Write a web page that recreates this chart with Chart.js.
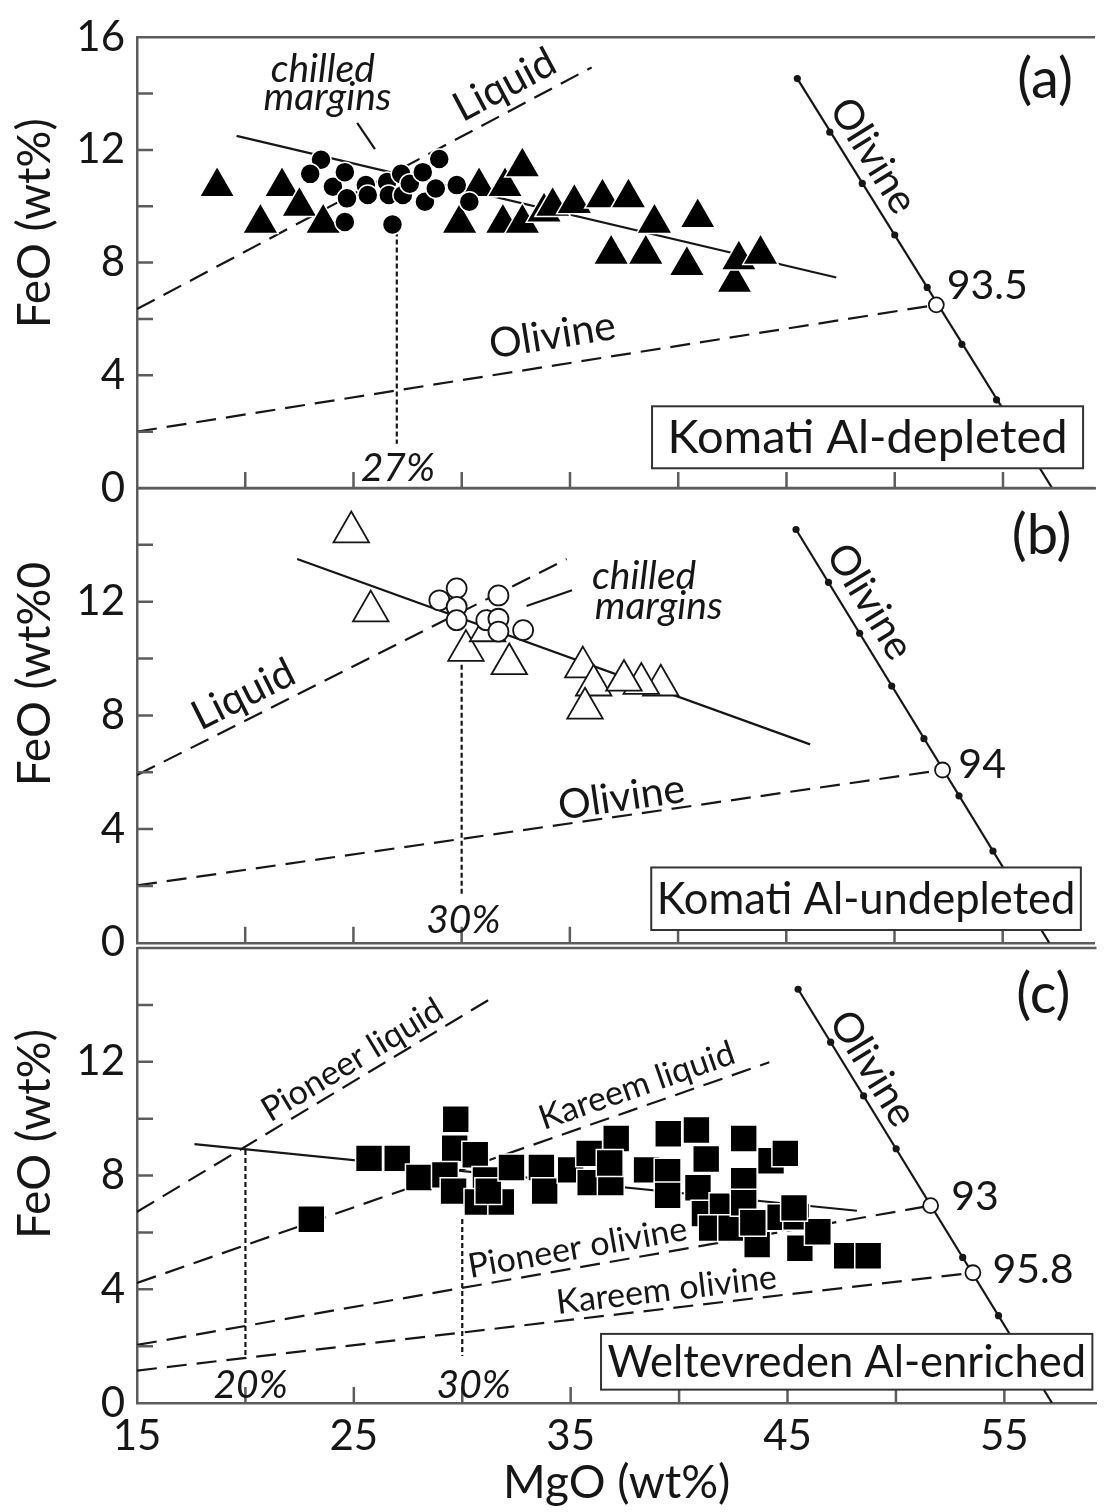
<!DOCTYPE html>
<html>
<head>
<meta charset="utf-8">
<title>FeO vs MgO</title>
<script src="https://cdn.jsdelivr.net/npm/chart.js@4.4.1/dist/chart.umd.min.js"></script>
<style>
  html, body { margin: 0; padding: 0; background: #fff; }
  #fig { position: relative; width: 1117px; height: 1512px; overflow: hidden; }
  #fig canvas { position: absolute; left: 0; display: block; }
</style>
</head>
<body>
<div id="fig">
  <canvas id="panelA" width="1117" height="530" style="top:0"></canvas>
  <canvas id="panelB" width="1117" height="540" style="top:440px"></canvas>
  <canvas id="panelC" width="1117" height="612" style="top:900px"></canvas>
</div>
<script>
const X_MIN = 15, X_MAX = 59.25;
const INK = '#161616';
const AXIS = '#5c5c5c';
const FONT = 'Lato, "Open Sans", sans-serif';

// MgO tick positions shared by the three panels
const xTicks = [15, 20, 25, 30, 35, 40, 45, 50, 55];

// (a) Komati Al-depleted
const aTriMgO = [18.7, 20.7, 21.7, 22.5, 23.6, 29.9, 30.8, 31.9, 32.0, 32.8, 32.8, 33.8, 34.2, 35.2, 36.5, 36.9, 37.7, 38.5, 38.9, 40.4, 40.9, 42.6, 42.8, 43.8];
const aTriFeO = [10.7, 9.4, 10.7, 10.0, 9.4, 9.4, 10.7, 9.4, 10.7, 11.4, 9.4, 9.8, 10.0, 10.1, 10.3, 8.3, 10.3, 8.3, 9.4, 7.9, 9.6, 7.3, 8.1, 8.3];
const aChillMgO = [23.5, 23.0, 24.05, 24.6, 24.7, 24.6, 25.57, 25.66, 26.55, 26.63, 26.8, 27.2, 27.28, 27.6, 28.2, 28.3, 28.96, 28.8, 29.77, 30.35];
const aChillFeO = [11.65, 11.15, 10.69, 11.21, 10.28, 9.44, 10.75, 10.4, 10.86, 10.4, 9.35, 11.15, 10.4, 10.8, 11.21, 10.16, 11.68, 10.63, 10.75, 10.16];
const aTrendMgO = [19.6, 47.3];
const aTrendFeO = [12.5, 7.47];
const aLiquidMgO = [15, 36.0];
const aLiquidFeO = [6.35, 14.93];
const aOlMgO = [15, 51.92];
const aOlFeO = [2.0, 6.5];
const aMeltMgO = [27, 27];
const aMeltFeO = [9.1, 1.57];
const aPointerMgO = [25.17, 25.99];
const aPointerFeO = [12.96, 12.03];
const aJoinMgO = [45.5, 57.27];
const aJoinFeO = [14.53, 0];
const aJoinTickMgO = [45.5, 47.0, 48.5, 50.0, 51.5, 53.1, 54.7];
const aJoinTickFeO = [14.53, 12.63, 10.81, 8.98, 7.12, 5.1, 3.13];
const aFoMgO = [51.92];
const aFoFeO = [6.5];

// (b) Komati Al-undepleted
const bTriMgO = [24.9, 25.8, 30.2, 31.2, 32.2, 35.6, 36.1, 35.7, 39.2, 38.3, 37.5];
const bTriFeO = [14.45, 11.67, 10.28, 10.97, 9.81, 9.7, 9.06, 8.25, 9.06, 9.12, 9.23];
const bChillMgO = [28.97, 29.77, 29.77, 29.77, 31.14, 31.7, 31.7, 31.7, 32.84];
const bChillFeO = [12.05, 12.47, 11.82, 11.35, 11.35, 12.22, 11.4, 10.95, 11.0];
const bTrendMgO = [22.4, 46.1];
const bTrendFeO = [13.5, 6.98];
const bLiquidMgO = [15, 34.85];
const bLiquidFeO = [5.9, 13.5];
const bOlMgO = [15, 52.22];
const bOlFeO = [2.02, 6.08];
const bMeltMgO = [30, 30];
const bMeltFeO = [9.78, 1.67];
const bPointerMgO = [33.0, 35.1];
const bPointerFeO = [11.85, 12.4];
const bJoinMgO = [45.45, 57.15];
const bJoinFeO = [14.54, 0];
const bJoinTickMgO = [45.45, 46.95, 48.39, 49.87, 51.36, 52.98, 54.55];
const bJoinTickFeO = [14.54, 12.68, 10.89, 9.03, 7.18, 5.17, 3.23];
const bFoMgO = [52.22];
const bFoFeO = [6.08];

// (c) Weltevreden Al-enriched
const cSqMgO = [23.04, 25.7, 27.0, 28.0, 29.7, 29.65, 29.2, 29.6, 30.6, 31.07, 30.7, 31.8, 31.2, 32.27, 33.65, 33.8, 35.0, 35.85, 37.1, 35.9, 36.85, 36.8, 38.5, 39.5, 39.47, 39.47, 40.8, 41.25, 40.87, 41.17, 42.0, 41.5, 42.4, 42.98, 42.98, 42.98, 43.6, 44.24, 44.9, 44.66, 45.4, 45.57, 46.4, 47.73, 48.72, 45.3, 43.4];
const cSqFeO = [6.46, 8.6, 8.6, 7.93, 9.98, 8.96, 8.02, 7.45, 8.73, 7.84, 7.07, 7.07, 7.45, 8.28, 8.28, 7.45, 8.2, 8.78, 9.3, 7.75, 7.75, 8.44, 8.2, 9.47, 8.13, 7.3, 9.6, 8.58, 7.57, 6.66, 6.92, 6.15, 6.15, 9.3, 7.82, 7.04, 5.57, 8.52, 8.78, 6.53, 6.55, 5.44, 6.02, 5.18, 5.18, 6.86, 6.34];
const cTrendMgO = [17.65, 48.2];
const cTrendFeO = [9.1, 6.76];
const cPioLiqMgO = [15, 31.47];
const cPioLiqFeO = [6.72, 14.29];
const cKarLiqMgO = [15, 44.16];
const cKarLiqFeO = [4.22, 11.98];
const cPioOlMgO = [15, 51.6];
const cPioOlFeO = [2.04, 6.94];
const cKarOlMgO = [15, 53.55];
const cKarOlFeO = [1.14, 4.58];
const cMelt20MgO = [20, 20];
const cMelt20FeO = [8.9, 1.55];
const cMelt30MgO = [30, 30];
const cMelt30FeO = [6.47, 1.65];
const cJoinMgO = [45.49, 57.2];
const cJoinFeO = [14.55, 0];
const cJoinTickMgO = [45.49, 46.99, 48.51, 50.01, 53.08, 54.73];
const cJoinTickFeO = [14.55, 12.69, 10.8, 8.94, 5.12, 3.07];
const cFoMgO = [51.6, 53.55];
const cFoFeO = [6.94, 4.58];

const DASH = [20, 10];
const DOT = [5, 3];

function pts(xs, ys) {
  return xs.map((v, i) => ({ x: v, y: ys[i] }));
}

function line(xs, ys, dash, width) {
  return {
    data: pts(xs, ys), showLine: true, fill: false, tension: 0,
    borderColor: INK, borderWidth: width || 2.2, borderDash: dash || [],
    pointRadius: 0, pointHoverRadius: 0, order: 5
  };
}

function marks(xs, ys, style, r, fill, edge, edgeWidth, order) {
  return {
    data: pts(xs, ys), showLine: false, pointStyle: style,
    pointRadius: r, pointHoverRadius: r,
    pointBackgroundColor: fill, pointBorderColor: edge, pointBorderWidth: edgeWidth,
    order: order
  };
}

// olivine join: solid line, small composition ticks, open marker at the Fo value
function olivineJoin(jx, jy, tx, ty, fx, fy) {
  return [
    line(jx, jy, [], 2.2),
    marks(tx, ty, 'circle', 3.6, INK, INK, 0, 4),
    marks(fx, fy, 'circle', 7.5, '#fff', INK, 1.8, 3)
  ];
}

function decor(spec) {
  return {
    id: 'decor',
    afterDatasetsDraw(chart) {
      const { ctx, chartArea: a, scales: { x, y } } = chart;
      ctx.save();

      // top edge and inward tick marks
      ctx.strokeStyle = AXIS;
      ctx.lineWidth = 2.5;
      ctx.beginPath();
      ctx.moveTo(a.left, a.top);
      ctx.lineTo(a.right, a.top);
      x.ticks.forEach(t => {
        if (t.value > X_MIN) {
          const p = x.getPixelForValue(t.value);
          ctx.moveTo(p, a.bottom);
          ctx.lineTo(p, a.bottom - 16);
        }
      });
      y.ticks.forEach(t => {
        if (t.value > 0 && t.value < 16) {
          const p = y.getPixelForValue(t.value);
          ctx.moveTo(a.left, p);
          ctx.lineTo(a.left + 16, p);
        }
      });
      ctx.stroke();

      // legend box in the lower right
      const b = spec.box;
      const bx0 = x.getPixelForValue(b.x0), bx1 = x.getPixelForValue(b.x1);
      const by0 = y.getPixelForValue(b.y0), by1 = y.getPixelForValue(b.y1);
      ctx.fillStyle = '#fff';
      ctx.fillRect(bx0, by0, bx1 - bx0, by1 - by0);
      ctx.strokeStyle = '#333';
      ctx.lineWidth = 2;
      ctx.strokeRect(bx0, by0, bx1 - bx0, by1 - by0);
      ctx.fillStyle = INK;
      ctx.font = b.size + 'px ' + FONT;
      ctx.textAlign = 'center';
      ctx.textBaseline = 'middle';
      ctx.fillText(b.text, (bx0 + bx1) / 2, (by0 + by1) / 2 + 1);

      // text notes, rotated along their line where given
      spec.notes.forEach(n => {
        let ang = 0;
        if (n.along) {
          const [xs, ys] = n.along;
          const dx = x.getPixelForValue(xs[xs.length - 1]) - x.getPixelForValue(xs[0]);
          const dy = y.getPixelForValue(ys[ys.length - 1]) - y.getPixelForValue(ys[0]);
          ang = Math.atan2(dy, dx);
        }
        ctx.save();
        ctx.translate(x.getPixelForValue(n.x), y.getPixelForValue(n.y));
        ctx.rotate(ang);
        ctx.font = n.font;
        ctx.textAlign = n.align || 'center';
        ctx.fillText(n.text, 0, 0);
        ctx.restore();
      });

      // axis titles
      ctx.font = '46px ' + FONT;
      ctx.textAlign = 'center';
      ctx.save();
      ctx.translate(35, a.top + 186);
      ctx.rotate(-Math.PI / 2);
      ctx.fillText(spec.yTitle, 0, 0);
      ctx.restore();
      if (spec.xTitle) {
        ctx.fillText(spec.xTitle, (a.left + a.right) / 2, a.bottom + 80);
      }
      ctx.restore();
    }
  };
}

const tickFont = { family: FONT, size: 42 };

function panel(id, datasets, spec, pad) {
  new Chart(document.getElementById(id), {
    type: 'scatter',
    data: { datasets },
    options: {
      responsive: false,
      animation: false,
      events: [],
      layout: { padding: { top: pad.top, bottom: pad.bottom, left: 0, right: 0 } },
      plugins: { legend: { display: false }, tooltip: { enabled: false } },
      scales: {
        x: {
          type: 'linear', min: X_MIN, max: X_MAX,
          afterBuildTicks: s => { s.ticks = xTicks.map(v => ({ value: v })); },
          afterFit: s => { s.height = pad.xh; },
          grid: { display: false, drawTicks: false },
          border: { display: true, color: AXIS, width: 2.5 },
          ticks: {
            display: !!spec.xTitle, autoSkip: false, maxRotation: 0,
            padding: 8, font: tickFont, color: INK,
            callback: v => ((v - 15) % 10 === 0 ? v : '')
          }
        },
        y: {
          type: 'linear', min: 0, max: 16,
          afterFit: s => { s.width = 137; },
          grid: { display: false, drawTicks: false },
          border: { display: true, color: AXIS, width: 2.5 },
          ticks: {
            stepSize: 2, autoSkip: false, padding: 12, font: tickFont, color: INK,
            callback: v => (v % 4 === 0 && (v < 16 || spec.topLabel) ? v : '')
          }
        }
      }
    },
    plugins: [decor(spec)]
  });
}

const ITAL = 'italic 39px ' + FONT;
const F40 = '41px ' + FONT;
const F34 = '34px ' + FONT;
const F50 = '56px ' + FONT;

panel('panelA', [
  marks(aChillMgO, aChillFeO, 'circle', 10, '#000', '#fff', 1.5, 0),
  marks(aTriMgO, aTriFeO, 'triangle', 20.5, '#000', '#fff', 1.5, 1),
  ...olivineJoin(aJoinMgO, aJoinFeO, aJoinTickMgO, aJoinTickFeO, aFoMgO, aFoFeO),
  line(aTrendMgO, aTrendFeO),
  line(aLiquidMgO, aLiquidFeO, DASH),
  line(aOlMgO, aOlFeO, DASH),
  line(aMeltMgO, aMeltFeO, DOT),
  line(aPointerMgO, aPointerFeO)
], {
  yTitle: 'FeO (wt%)', topLabel: true,
  box: { x0: 38.79, x1: 58.7, y0: 2.9, y1: 0.7, text: 'Komati Al-depleted', size: 47 },
  notes: [
    { text: 'chilled', x: 23.58, y: 14.86, font: ITAL },
    { text: 'margins', x: 23.8, y: 13.85, font: ITAL },
    { text: 'Liquid', x: 31.98, y: 14.3, font: F40, along: [aLiquidMgO, aLiquidFeO] },
    { text: 'Olivine', x: 34.19, y: 5.41, font: F40, along: [aOlMgO, aOlFeO] },
    { text: 'Olivine', x: 49.0, y: 11.79, font: F40, along: [aJoinMgO, aJoinFeO] },
    { text: '93.5', x: 52.4, y: 7.19, font: F40, align: 'left' },
    { text: '(a)', x: 56.94, y: 14.5, font: F50 },
    { text: '27%', x: 27.05, y: 0.7, font: ITAL }
  ]
}, { top: 29, bottom: 42, xh: 0 });

panel('panelB', [
  marks(bChillMgO, bChillFeO, 'circle', 10, '#fff', INK, 1.8, 0),
  marks(bTriMgO, bTriFeO, 'triangle', 20.5, '#fff', INK, 1.8, 1),
  ...olivineJoin(bJoinMgO, bJoinFeO, bJoinTickMgO, bJoinTickFeO, bFoMgO, bFoFeO),
  line(bTrendMgO, bTrendFeO),
  line(bLiquidMgO, bLiquidFeO, DASH),
  line(bOlMgO, bOlFeO, DASH),
  line(bMeltMgO, bMeltFeO, DOT),
  line(bPointerMgO, bPointerFeO)
], {
  yTitle: 'FeO (wt%0',
  box: { x0: 38.76, x1: 58.61, y0: 2.65, y1: 0.45, text: 'Komati Al-undepleted', size: 43.5 },
  notes: [
    { text: 'chilled', x: 38.43, y: 12.9, font: ITAL },
    { text: 'margins', x: 39.1, y: 11.82, font: ITAL },
    { text: 'Liquid', x: 19.92, y: 8.73, font: F40, along: [bLiquidMgO, bLiquidFeO] },
    { text: 'Olivine', x: 37.39, y: 5.11, font: F40, along: [bOlMgO, bOlFeO] },
    { text: 'Olivine', x: 48.85, y: 12.0, font: F40, along: [bJoinMgO, bJoinFeO] },
    { text: '94', x: 52.95, y: 6.26, font: F40, align: 'left' },
    { text: '(b)', x: 56.8, y: 14.33, font: F50 },
    { text: '30%', x: 30.08, y: 0.77, font: ITAL }
  ]
}, { top: 48, bottom: 32, xh: 0 });

panel('panelC', [
  marks(cSqMgO, cSqFeO, 'rect', 19, '#000', '#fff', 1.5, 0),
  ...olivineJoin(cJoinMgO, cJoinFeO, cJoinTickMgO, cJoinTickFeO, cFoMgO, cFoFeO),
  line(cTrendMgO, cTrendFeO),
  line(cPioLiqMgO, cPioLiqFeO, DASH),
  line(cKarLiqMgO, cKarLiqFeO, DASH),
  line(cPioOlMgO, cPioOlFeO, DASH),
  line(cKarOlMgO, cKarOlFeO, DASH),
  line(cMelt20MgO, cMelt20FeO, DOT),
  line(cMelt30MgO, cMelt30FeO, DOT)
], {
  yTitle: 'FeO (wt%)', xTitle: 'MgO (wt%)',
  box: { x0: 36.4, x1: 59.06, y0: 2.43, y1: 0.47, text: 'Weltevreden Al-enriched', size: 43.5 },
  notes: [
    { text: 'Pioneer liquid', x: 24.93, y: 12.06, font: F34, along: [cPioLiqMgO, cPioLiqFeO] },
    { text: 'Kareem liquid', x: 38.05, y: 11.15, font: F34, along: [cKarLiqMgO, cKarLiqFeO] },
    { text: 'Pioneer olivine', x: 35.32, y: 5.45, font: F34, along: [cPioOlMgO, cPioOlFeO] },
    { text: 'Kareem olivine', x: 39.42, y: 3.97, font: F34, along: [cKarOlMgO, cKarOlFeO] },
    { text: 'Olivine', x: 48.93, y: 11.76, font: F40, along: [cJoinMgO, cJoinFeO] },
    { text: '93', x: 52.55, y: 7.24, font: F40, align: 'left' },
    { text: '95.8', x: 54.45, y: 4.68, font: F40, align: 'left' },
    { text: '(c)', x: 56.8, y: 14.35, font: F50 },
    { text: '20%', x: 20.24, y: 0.63, font: ITAL },
    { text: '30%', x: 30.53, y: 0.63, font: ITAL }
  ]
}, { top: 48, bottom: 0, xh: 109 });
</script>
</body>
</html>
